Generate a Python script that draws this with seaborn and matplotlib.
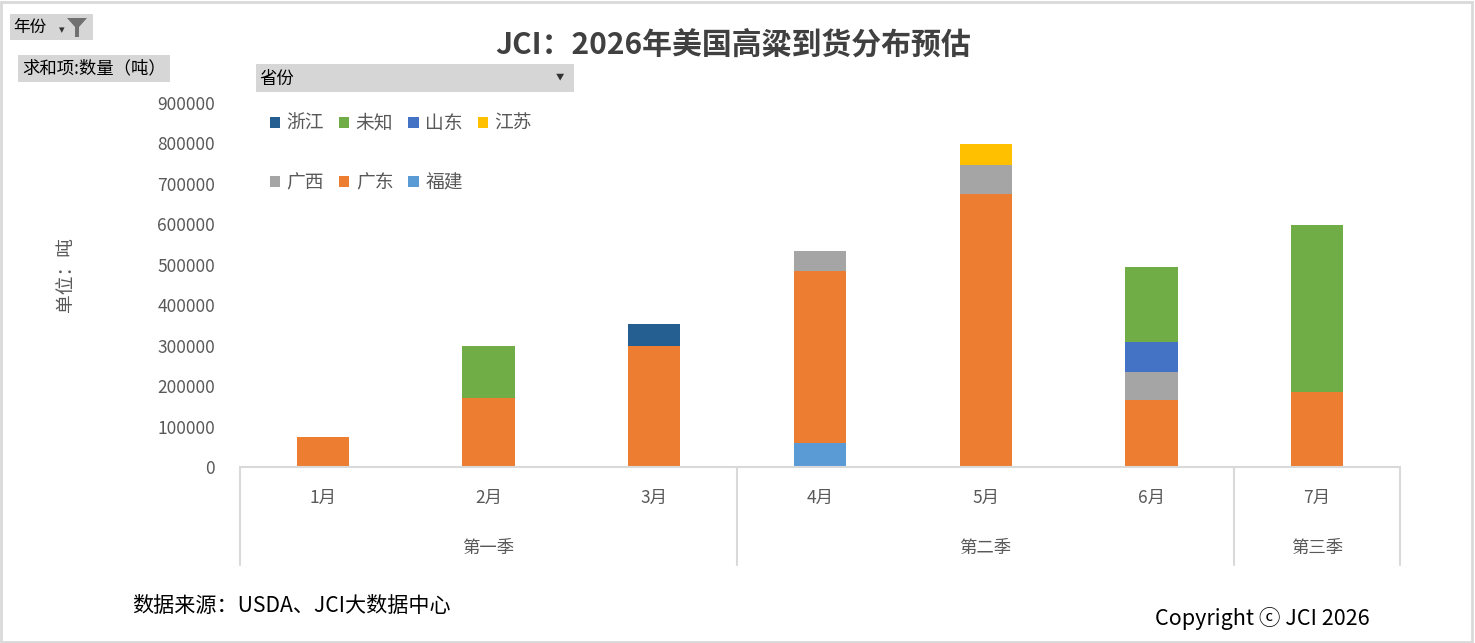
import pandas as pd
import numpy as np
import matplotlib.pyplot as plt
import seaborn as sns
from matplotlib.patches import Rectangle, Patch, Polygon
import matplotlib.transforms as mtransforms

# data (tons)
months = ["1月", "2月", "3月", "4月", "5月", "6月", "7月"]
quarters = ["第一季", "第二季", "第三季"]
quarter_span = [(0, 2), (3, 5), (6, 6)]

fujian = [0, 0, 0, 60000, 0, 0, 0]
guangdong = [75000, 170000, 300000, 424000, 675000, 165000, 185000]
guangxi = [0, 0, 0, 50000, 71000, 69000, 0]
jiangsu = [0, 0, 0, 0, 52000, 0, 0]
shandong = [0, 0, 0, 0, 0, 74000, 0]
weizhi = [0, 130000, 0, 0, 0, 186000, 413000]
zhejiang = [0, 0, 53000, 0, 0, 0, 0]

# stacking order bottom -> top
provinces = ["福建", "广东", "广西", "江苏", "山东", "未知", "浙江"]
series = [fujian, guangdong, guangxi, jiangsu, shandong, weizhi, zhejiang]
colors = {"福建": "#5b9bd5", "广东": "#ed7d31", "广西": "#a5a5a5", "江苏": "#ffc000",
          "山东": "#4472c4", "未知": "#70ad47", "浙江": "#255e91"}
# legend order (matplotlib fills column by column)
legend_order = ["浙江", "广西", "未知", "广东", "山东", "福建", "江苏"]

df = pd.DataFrame(dict(zip(provinces, series)), index=months)
cum = df.cumsum(axis=1)

sns.set_style("white")
plt.rcParams["font.family"] = ["Noto Sans CJK SC", "DejaVu Sans"]

W, H = 1475, 643
fig = plt.figure(figsize=(W / 100, H / 100), dpi=100)
ax = fig.add_axes([240 / W, (H - 467) / H, 1160 / W, 364 / H])

# draw cumulative bars from the top layer down so lower layers cover
for p in provinces[::-1]:
    sns.barplot(x=months, y=cum[p].values, order=months, color=colors[p],
                width=0.315, saturation=1, errorbar=None, linewidth=0, ax=ax)

ax.set_xlim(-0.5, 6.5)
ax.set_ylim(0, 900000)
ax.set_yticks(np.arange(0, 900001, 100000))
ax.set_yticklabels([str(v) for v in range(0, 900001, 100000)])
ax.tick_params(axis="y", length=0, pad=18, labelsize=12.5, labelcolor="#595959")
ax.set_xticks([])
ax.set_xlabel("")
for s in ["top", "right", "left", "bottom"]:
    ax.spines[s].set_visible(False)
ax.set_ylabel("单位：吨", fontsize=13.5, color="#595959")
ax.yaxis.set_label_coords(-0.141, 0.53)

# multi-level category axis
tr = mtransforms.blended_transform_factory(ax.transData, ax.transAxes)
line_kw = dict(color="#d9d9d9", lw=1.5, transform=tr, clip_on=False)
ax.plot([-0.5, 6.5], [0, 0], **line_kw)
for xv in [-0.5, 2.5, 5.5, 6.5]:
    ax.plot([xv, xv], [0, -0.27], **line_kw)
for i, m in enumerate(months):
    ax.text(i, -0.085, m, transform=tr, ha="center", va="center",
            fontsize=12.5, color="#595959")
for q, (a, b) in zip(quarters, quarter_span):
    ax.text((a + b) / 2, -0.222, q, transform=tr, ha="center", va="center",
            fontsize=12.5, color="#595959")

# legend
handles = [Patch(facecolor=colors[p], edgecolor="none") for p in legend_order]
leg = ax.legend(handles, legend_order, ncol=4, loc="upper left",
                bbox_to_anchor=(0.011, 1.019), frameon=False, fontsize=13.5,
                labelspacing=2.05, columnspacing=0.8, handlelength=0.55,
                handleheight=0.55, handletextpad=0.35)
for t in leg.get_texts():
    t.set_color("#595959")

# title
fig.text(733 / W, 1 - 45 / H, "JCI：2026年美国高粱到货分布预估", ha="center",
         va="center", fontsize=21.5, fontweight="bold", color="#404040")

# pivot field buttons
def button(x0, y0, x1, y1):
    fig.patches.append(Rectangle((x0 / W, 1 - y1 / H), (x1 - x0) / W, (y1 - y0) / H,
                                 transform=fig.transFigure, facecolor="#d6d6d6",
                                 edgecolor="none"))

button(10, 14, 93, 40)
fig.text(13 / W, 1 - 27 / H, "年份", va="center", fontsize=12, color="black")
fig.text(59 / W, 1 - 30 / H, "▾", va="center", fontsize=8, color="#333333")
fig.patches.append(Polygon([(67 / W, 1 - 18 / H), (87 / W, 1 - 18 / H), (79 / W, 1 - 27 / H),
                            (79 / W, 1 - 37 / H), (75 / W, 1 - 37 / H), (75 / W, 1 - 27 / H)],
                           closed=True, transform=fig.transFigure,
                           facecolor="#707070", edgecolor="none"))
button(18, 55, 170, 82)
fig.text(22 / W, 1 - 68 / H, "求和项:数量（吨）", va="center", fontsize=12.5, color="black")
button(256, 64, 574, 92)
fig.text(259 / W, 1 - 79 / H, "省份", va="center", fontsize=12.5, color="black")
fig.text(556 / W, 1 - 77 / H, "▼", va="center", fontsize=6, color="#333333")

# footer
fig.text(132 / W, 1 - 606 / H, "数据来源：USDA、JCI大数据中心", va="center",
         fontsize=15.2, color="black")
fig.text(1370 / W, 1 - 618 / H, "Copyright ⓒ JCI 2026", ha="right", va="center",
         fontsize=15.5, color="black")

# outer frame
fig.patches.append(Rectangle((0.001, 0.002), 0.997, 0.995, transform=fig.transFigure,
                             facecolor="none", edgecolor="#d9d9d9", lw=2))

plt.savefig("out.png", dpi=100)
